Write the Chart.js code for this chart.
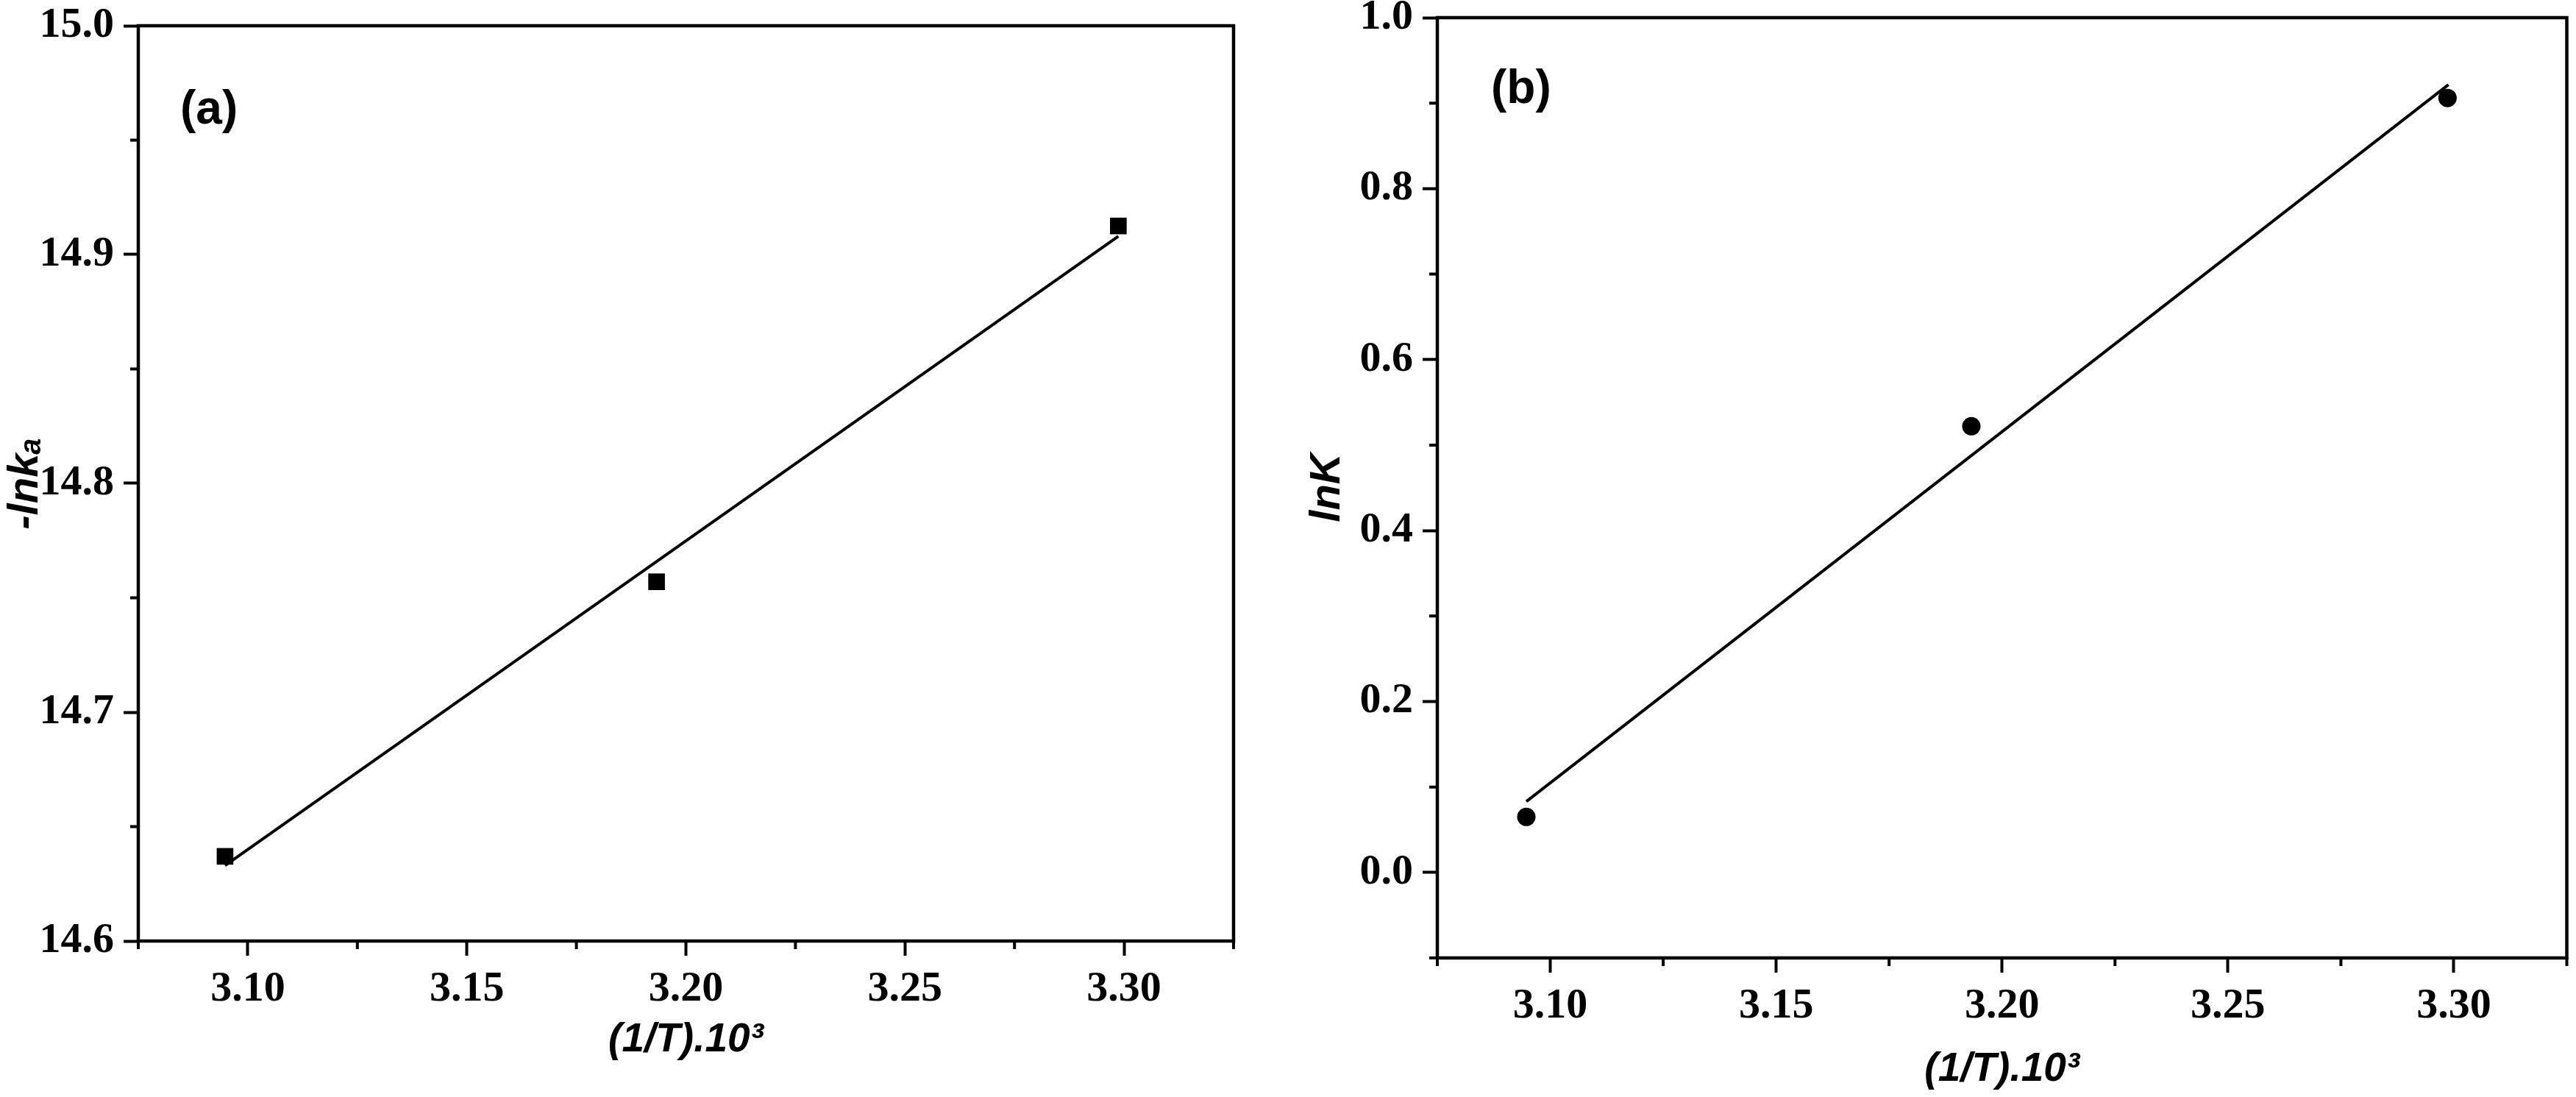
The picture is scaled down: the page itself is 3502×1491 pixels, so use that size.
<!DOCTYPE html>
<html>
<head>
<meta charset="utf-8">
<script src="https://cdn.jsdelivr.net/npm/chart.js@4.4.1/dist/chart.umd.min.js"></script>
<style>
  html, body { margin: 0; padding: 0; background: #fff; }
  body { width: 3502px; height: 1491px; position: relative; overflow: hidden; }
  .panel { position: absolute; top: 0; height: 1491px; }
  #pa { left: 0; width: 1750px; }
  #pb { left: 1750px; width: 1752px; }
</style>
</head>
<body>
<div class="panel" id="pa"><canvas id="ca"></canvas></div>
<div class="panel" id="pb"><canvas id="cb"></canvas></div>
<script>
// ---- data ----
const xA = [3.0948, 3.1933, 3.2987];
const yA = [14.637, 14.757, 14.9125];
const fitAx = [3.0948, 3.2987];
const fitAy = [14.633, 14.908];

const xB = [3.0947, 3.1932, 3.2986];
const yB = [0.065, 0.522, 0.906];
const fitBx = [3.0947, 3.2988];
const fitBy = [0.083, 0.9216];

const xTicks = [3.10, 3.15, 3.20, 3.25, 3.30];
const xMinor = [3.075, 3.125, 3.175, 3.225, 3.275, 3.325];
const yTicksA = [14.6, 14.7, 14.8, 14.9, 15.0];
const yMinorA = [14.65, 14.75, 14.85, 14.95];
const yTicksB = [0.0, 0.2, 0.4, 0.6, 0.8, 1.0];
const yMinorB = [-0.1, 0.1, 0.3, 0.5, 0.7, 0.9];

const xTitle = '(1/T).10³';
const yTitleA = '-lnkₐ';
const yTitleB = 'lnK';

// ---- helpers ----
const pts = (xs, ys) => xs.map((x, i) => ({ x: x, y: ys[i] }));
const tickFont = { family: 'Liberation Serif', weight: 'bold', size: 58 };
const xTitleFont = { family: 'Liberation Sans', weight: 'bold', style: 'italic', size: 55 };
const yTitleFont = { family: 'Liberation Sans', weight: 'bold', style: 'italic', size: 58, lineHeight: 1.0 };

const boxPlugin = {
  id: 'boxPlugin',
  afterDraw(chart, args, opts) {
    const ctx = chart.ctx, a = chart.chartArea;
    const xs = chart.scales.x, ys = chart.scales.y;
    ctx.save();
    ctx.strokeStyle = '#000';
    ctx.lineWidth = 4.5;
    ctx.strokeRect(a.left, a.top, a.right - a.left, a.bottom - a.top);
    ctx.lineWidth = 4;
    ctx.beginPath();
    opts.xMinor.forEach(v => {
      const p = xs.getPixelForValue(v);
      ctx.moveTo(p, a.bottom); ctx.lineTo(p, a.bottom + 11);
    });
    opts.yMinor.forEach(v => {
      const p = ys.getPixelForValue(v);
      ctx.moveTo(a.left - 11, p); ctx.lineTo(a.left, p);
    });
    ctx.stroke();
    ctx.fillStyle = '#000';
    ctx.font = 'bold 64px "Liberation Sans", Arial, sans-serif';
    ctx.textBaseline = 'middle';
    ctx.textAlign = 'left';
    ctx.fillText(opts.label, a.left + opts.dx, a.top + opts.dy);
    ctx.restore();
  }
};

function makeChart(id, cfg) {
  return new Chart(document.getElementById(id), {
    type: 'scatter',
    data: {
      datasets: [
        { data: pts(cfg.xs, cfg.ys), pointStyle: cfg.pointStyle, pointRadius: cfg.pointRadius,
          backgroundColor: '#000', borderColor: '#000', borderWidth: 0, showLine: false },
        { data: pts(cfg.fx, cfg.fy), showLine: true, pointRadius: 0, borderColor: '#000',
          borderWidth: 4, fill: false }
      ]
    },
    options: {
      responsive: true,
      maintainAspectRatio: false,
      animation: false,
      events: [],
      layout: { padding: { top: cfg.padTop, right: cfg.padRight, left: 0, bottom: 0 } },
      plugins: {
        legend: { display: false },
        tooltip: { enabled: false },
        boxPlugin: { xMinor: xMinor, yMinor: cfg.yMinor, label: cfg.label, dx: cfg.labelDx, dy: cfg.labelDy }
      },
      scales: {
        x: {
          type: 'linear', min: 3.075, max: 3.325,
          afterBuildTicks: s => { s.ticks = xTicks.map(v => ({ value: v })); },
          afterFit: s => { s.height = cfg.xHeight; s.paddingLeft = 0; s.paddingRight = 0; },
          ticks: { font: tickFont, color: '#000', padding: 11, callback: v => Number(v).toFixed(2) },
          grid: { drawOnChartArea: false, drawTicks: true, tickLength: 20, tickWidth: 4, tickColor: '#000' },
          border: { display: false },
          title: { display: true, text: xTitle, font: xTitleFont, color: '#000',
                   padding: { top: 0, bottom: cfg.xTitlePad } }
        },
        y: {
          type: 'linear', min: cfg.ymin, max: cfg.ymax,
          afterBuildTicks: s => { s.ticks = cfg.yTicks.map(v => ({ value: v })); },
          afterFit: s => { s.width = cfg.yWidth; s.paddingTop = 0; s.paddingBottom = 0; },
          ticks: { font: tickFont, color: '#000', padding: 13, callback: v => Number(v).toFixed(1) },
          grid: { drawOnChartArea: false, drawTicks: true, tickLength: 20, tickWidth: 4, tickColor: '#000' },
          border: { display: false },
          title: { display: true, text: cfg.yTitle, font: yTitleFont, color: '#000',
                   padding: { top: cfg.yTitlePad, bottom: 0 } }
        }
      }
    },
    plugins: [boxPlugin]
  });
}

makeChart('ca', {
  xs: xA, ys: yA, fx: fitAx, fy: fitAy, pointStyle: 'rect', pointRadius: 16,
  ymin: 14.6, ymax: 15.0, yTicks: yTicksA, yMinor: yMinorA,
  padTop: 35, padRight: 73, xHeight: 212, yWidth: 188,
  xTitlePad: 44, yTitle: yTitleA, yTitlePad: 6,
  label: '(a)', labelDx: 57, labelDy: 115
});

makeChart('cb', {
  xs: xB, ys: yB, fx: fitBx, fy: fitBy, pointStyle: 'circle', pointRadius: 12.5,
  ymin: -0.1, ymax: 1.0, yTicks: yTicksB, yMinor: yMinorB,
  padTop: 24, padRight: 2, xHeight: 189, yWidth: 204,
  xTitlePad: 4, yTitle: yTitleB, yTitlePad: 26,
  label: '(b)', labelDx: 73, labelDy: 98
});
</script>
</body>
</html>
